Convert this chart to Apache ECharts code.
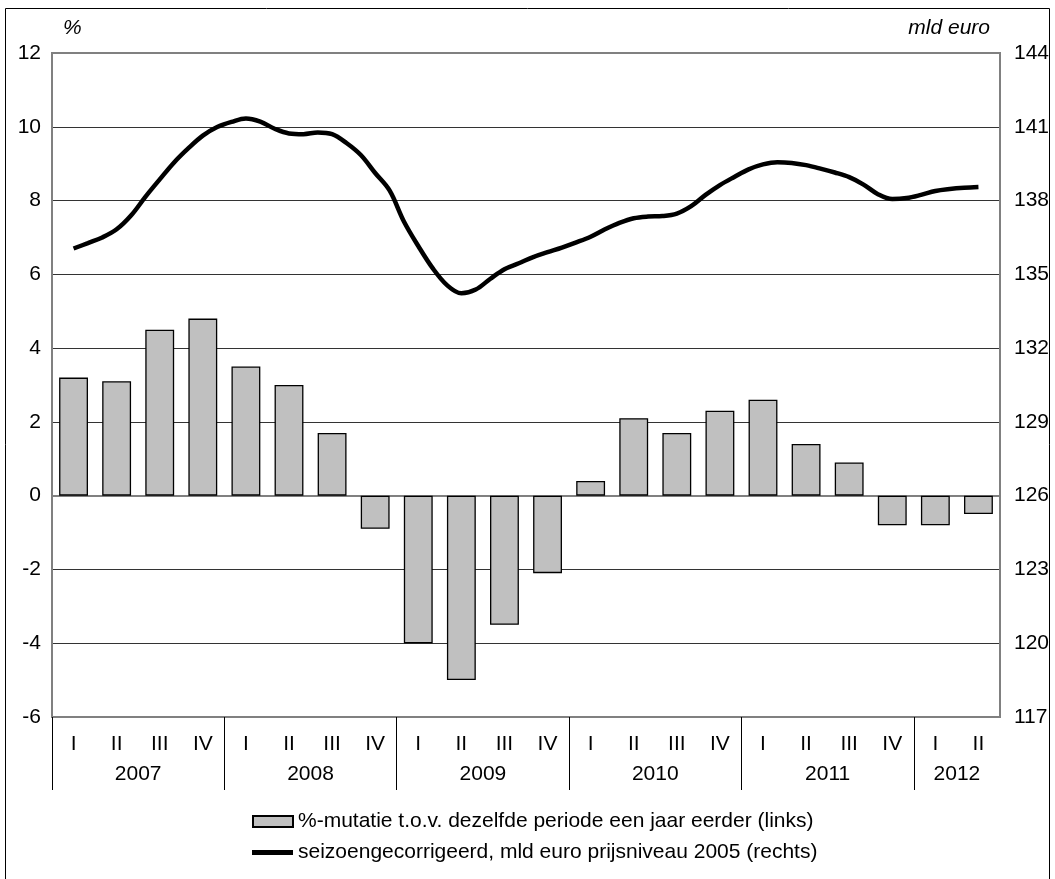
<!DOCTYPE html>
<html>
<head>
<meta charset="utf-8">
<script src="https://cdn.jsdelivr.net/npm/echarts@6/dist/echarts.min.js"></script>
<style>
html,body{margin:0;padding:0;background:#fff;}
#chart{width:1055px;height:879px;}
</style>
</head>
<body>
<div id="chart"></div>
<script>
// ---- data ----
const quarters = ['I','II','III','IV','I','II','III','IV','I','II','III','IV','I','II','III','IV','I','II','III','IV','I','II'];
const years = ['2007','2008','2009','2010','2011','2012'];
const quartersPerYear = [4,4,4,4,4,2];
// %-change vs same period a year earlier (left axis)
const pctChange = [3.2,3.1,4.5,4.8,3.5,3.0,1.7,-0.9,-4.0,-5.0,-3.5,-2.1,0.4,2.1,1.7,2.3,2.6,1.4,0.9,-0.8,-0.8,-0.5];
// seasonally adjusted level, bn euro 2005 prices (right axis), monthly Feb 2007 - May 2012
const gdpLevel = [136.05,136.27,136.5,136.83,137.39,138.15,138.86,139.55,140.13,140.64,140.99,141.2,
  141.34,141.21,140.92,140.73,140.7,140.77,140.7,140.34,139.85,139.12,138.41,137.15,
  136.15,135.25,134.56,134.23,134.38,134.81,135.21,135.45,135.7,135.9,136.09,136.3,
  136.53,136.83,137.09,137.28,137.35,137.37,137.47,137.77,138.23,138.63,138.96,139.27,
  139.47,139.56,139.53,139.44,139.3,139.14,138.95,138.65,138.26,138.06,138.1,138.23,
  138.39,138.47,138.52,138.55];
const barName = '%-mutatie t.o.v. dezelfde periode een jaar eerder (links)';
const lineName = 'seizoengecorrigeerd, mld euro prijsniveau 2005 (rechts)';

// ---- derived ----
const categories = quarters.map((q,i)=> i + '_' + q);
const yearStarts = [], yearCenters = [], yearByCenter = {};
let acc = 0;
quartersPerYear.forEach((n,i)=>{ yearStarts.push(acc); const c = acc + n/2; yearCenters.push(c); yearByCenter[c] = years[i]; acc += n; });
const totalQ = acc;
// month axis spanning the same period (3 months per quarter)
const monthCats = []; for (let i=0;i<totalQ*3;i++) monthCats.push('m'+i);
const lineData = [null].concat(gdpLevel).concat([null]);

const font = "'Liberation Sans', Arial, sans-serif";
const fs = 21;
const chart = echarts.init(document.getElementById('chart'));
chart.setOption({
  animation:false,
  backgroundColor:'#fff',
  textStyle:{fontFamily:font, color:'#000'},
  grid:{left:52,right:55,top:53,bottom:162,show:true,borderColor:'#808080',borderWidth:2,backgroundColor:'transparent'},
  graphic:[{type:'rect',shape:{x:5.5,y:8.5,width:1044,height:890},style:{fill:'none',stroke:'#000',lineWidth:1},silent:true,z:-1}],
  legend:[
    {data:[{name:barName,icon:'rect'}],left:252,top:811,padding:0,itemWidth:40,itemHeight:11,itemGap:5,
     textStyle:{fontSize:fs,fontFamily:font,color:'#000'},selectedMode:false},
    {data:[{name:lineName,icon:'rect',itemStyle:{color:'#000',borderWidth:0}}],left:252,top:842,padding:0,itemWidth:41,itemHeight:5,
     textStyle:{fontSize:fs,fontFamily:font,color:'#000'},selectedMode:false}
  ],
  xAxis:[
    {type:'category',data:categories,gridIndex:0,position:'bottom',
     axisLine:{show:true,lineStyle:{color:'#808080',width:2}},axisTick:{show:false},
     axisLabel:{interval:0,margin:17,fontSize:fs,color:'#000',fontFamily:font,formatter:v=>v.split('_')[1]},
     splitLine:{show:false}},
    {type:'value',min:0,max:totalQ,gridIndex:0,position:'bottom',
     axisLine:{show:false},splitLine:{show:false},
     axisTick:{show:true,customValues:yearStarts,length:73,lineStyle:{color:'#000',width:1}},
     axisLabel:{customValues:yearCenters,margin:47,fontSize:fs,color:'#000',fontFamily:font,formatter:v=>yearByCenter[v]||''}},
    {type:'category',data:monthCats,gridIndex:0,show:false,boundaryGap:true}
  ],
  yAxis:[
    {type:'value',min:-6,max:12,interval:2,position:'left',
     name:'%',nameLocation:'end',nameGap:14,
     nameTextStyle:{fontStyle:'italic',fontSize:fs,fontFamily:font,color:'#000',align:'left',padding:[0,0,0,11]},
     axisLine:{show:true,lineStyle:{color:'#808080',width:2}},axisTick:{show:false},
     axisLabel:{fontSize:fs,margin:11,color:'#000',fontFamily:font},
     splitLine:{show:true,lineStyle:{width:1,color:['#808080','#333','#333','#808080','#333','#333','#333','#333','#333','#808080']}}},
    {type:'value',min:117,max:144,interval:3,position:'right',
     name:'mld euro',nameLocation:'end',nameGap:14,
     nameTextStyle:{fontStyle:'italic',fontSize:fs,fontFamily:font,color:'#000',align:'right',padding:[0,10,0,0]},
     axisLine:{show:true,lineStyle:{color:'#808080',width:2}},axisTick:{show:false},
     axisLabel:{fontSize:fs,margin:14,color:'#000',fontFamily:font},
     splitLine:{show:false}}
  ],
  series:[
    {name:barName,type:'bar',xAxisIndex:0,yAxisIndex:0,data:pctChange,barCategoryGap:'33%',
     itemStyle:{color:'#C0C0C0',borderColor:'#000',borderWidth:1.3},z:2},
    {name:lineName,type:'line',xAxisIndex:2,yAxisIndex:1,data:lineData,smooth:0.35,showSymbol:false,symbol:'none',
     lineStyle:{color:'#000',width:4.5},itemStyle:{color:'#000'},z:5}
  ]
});
</script>
</body>
</html>
